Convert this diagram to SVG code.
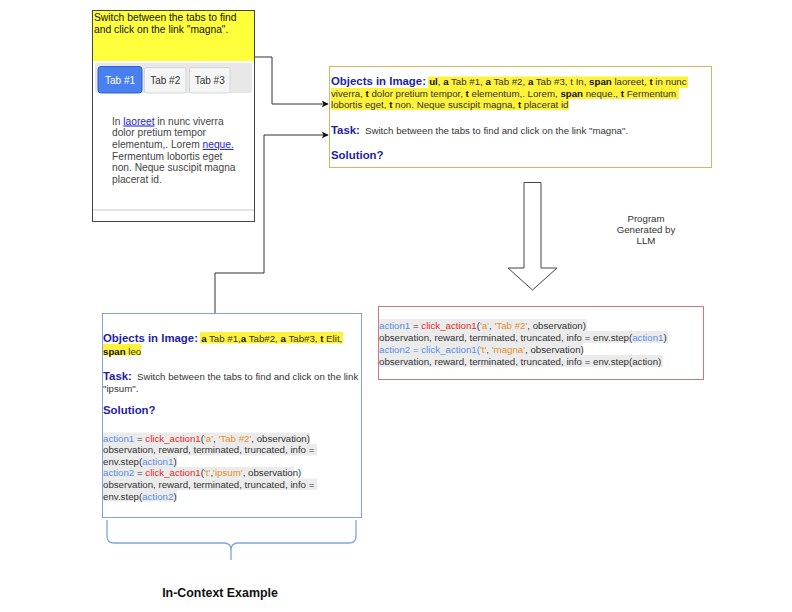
<svg xmlns="http://www.w3.org/2000/svg" width="792" height="612" viewBox="0 0 792 612">
<style>
text{font-family:"Liberation Sans",Arial,sans-serif;fill:#333}
.b{font-size:9.7px}
.h{font-size:11.4px;font-weight:bold;fill:#1f1fa3}
.k{font-weight:bold;fill:#111}
.blu{fill:#5a8ee8}
.red{fill:#e02a2a}
.org{fill:#e8902a}
.hl{fill:#fff23a}
.cg{fill:#ebebeb}
.conn{fill:none;stroke:#333;stroke-width:1}
</style>
<defs>
<marker id="arr" viewBox="0 0 10 10" refX="9" refY="5" markerWidth="7" markerHeight="7" orient="auto" markerUnits="userSpaceOnUse">
<path d="M0,0 L10,5 L0,10 L2.5,5 Z" fill="#111"/>
</marker>
</defs>
<rect width="792" height="612" fill="#fff"/>

<g id="screenshot">
<rect x="92.5" y="10.5" width="162" height="211" fill="#fff" stroke="#444"/>
<rect x="93" y="11" width="161" height="50" fill="#ffff3c"/>
<text x="94" y="20.5" style="font-size:10.3px;fill:#111">Switch between the tabs to find</text>
<text x="94" y="33" style="font-size:10.3px;fill:#111">and click on the link "magna".</text>
<rect x="95" y="63" width="157" height="30" rx="3" fill="#e8e8e8"/>
<rect x="98" y="66.5" width="44" height="26.5" rx="3" fill="#4a7ff0" stroke="#2f62d0"/>
<text x="120" y="83.5" text-anchor="middle" style="font-size:10px;fill:#fff">Tab #1</text>
<rect x="144.5" y="67.5" width="41.5" height="25.5" rx="2" fill="#f5f5f5" stroke="#d6d6d6"/>
<text x="165.2" y="83.5" text-anchor="middle" style="font-size:10px;fill:#333">Tab #2</text>
<rect x="189.5" y="67.5" width="40.5" height="25.5" rx="2" fill="#f5f5f5" stroke="#d6d6d6"/>
<text x="209.7" y="83.5" text-anchor="middle" style="font-size:10px;fill:#333">Tab #3</text>
<g style="font-size:10.2px">
<text x="112" y="124.5" style="fill:#444">In <tspan fill="#1a1ae0" text-decoration="underline">laoreet</tspan> in nunc viverra</text>
<text x="112" y="136.2" style="fill:#444">dolor pretium tempor</text>
<text x="112" y="147.9" style="fill:#444">elementum,. Lorem <tspan fill="#1a1ae0" text-decoration="underline">neque.</tspan></text>
<text x="112" y="159.6" style="fill:#444">Fermentum lobortis eget</text>
<text x="112" y="171.3" style="fill:#444">non. Neque suscipit magna</text>
<text x="112" y="183" style="fill:#444">placerat id.</text>
</g>
<line x1="93" y1="210" x2="254" y2="210" stroke="#c8c8c8"/>
</g>

<g id="prompt">
<rect x="329.5" y="66.5" width="382" height="101" fill="#fff" stroke="#d9b45e"/>
<rect class="hl" x="428" y="76.5" width="260" height="11.5"/>
<rect class="hl" x="331" y="88" width="348" height="11"/>
<rect class="hl" x="331" y="99" width="238" height="11"/>
<text x="331" y="85" class="b"><tspan class="h">Objects in Image: </tspan><tspan class="k">ul</tspan>, <tspan class="k">a</tspan> Tab #1, <tspan class="k">a</tspan> Tab #2, <tspan class="k">a</tspan> Tab #3, t In, <tspan class="k">span</tspan> laoreet, <tspan class="k">t</tspan> in nunc</text>
<text x="331" y="96.5" class="b">viverra, <tspan class="k">t</tspan> dolor pretium tempor, <tspan class="k">t</tspan> elementum,. Lorem, <tspan class="k">span</tspan> neque., <tspan class="k">t</tspan> Fermentum</text>
<text x="331" y="108" class="b">lobortis eget, <tspan class="k">t</tspan> non. Neque suscipit magna, <tspan class="k">t</tspan> placerat id</text>
<text x="331" y="134" class="b"><tspan class="h">Task:</tspan><tspan dx="5">Switch between the tabs to find and click on the link "magna".</tspan></text>
<text x="331" y="159" class="h">Solution?</text>
</g>

<g id="llm-arrow">
<polygon points="524,182.5 541,182.5 541,268 557,268 532.5,290 508,268 524,268" fill="#fff" stroke="#444" stroke-width="1"/>
</g>
<g id="llm-label">
<text x="646" y="221.5" text-anchor="middle" class="b">Program</text>
<text x="646" y="232.5" text-anchor="middle" class="b">Generated by</text>
<text x="646" y="243.5" text-anchor="middle" class="b">LLM</text>
</g>

<g id="output">
<rect x="378.5" y="306.5" width="325" height="73" fill="#fff" stroke="#c97a7a"/>
<rect class="cg" x="379" y="319" width="208" height="12"/>
<rect class="cg" x="379" y="331" width="289" height="12"/>
<rect class="cg" x="379" y="343" width="204" height="12"/>
<rect class="cg" x="379" y="355" width="284" height="12"/>
<text x="379" y="328.5" class="b"><tspan class="blu">action1</tspan> = <tspan class="red">click_action1</tspan>(<tspan class="org">'a'</tspan>, <tspan class="org">'Tab #2'</tspan>, observation)</text>
<text x="379" y="340.5" class="b">observation, reward, terminated, truncated, info = env.step(<tspan class="blu">action1</tspan>)</text>
<text x="379" y="352.5" class="b"><tspan class="blu">action2 = click_action1(</tspan><tspan class="org">'t'</tspan>, <tspan class="org">'magna'</tspan>, observation)</text>
<text x="379" y="364.5" class="b">observation, reward, terminated, truncated, info = env.step(action)</text>
</g>

<g id="example">
<rect x="102.5" y="313.5" width="259" height="204" fill="#fff" stroke="#7ea6e0"/>
<rect class="hl" x="200" y="332" width="143" height="11.5"/>
<rect class="hl" x="103" y="344" width="38" height="11.5"/>
<text x="103" y="342" class="b"><tspan class="h">Objects in Image: </tspan><tspan class="k">a</tspan> Tab #1,<tspan class="k">a</tspan> Tab#2, <tspan class="k">a</tspan> Tab#3, <tspan class="k">t</tspan> Elit,</text>
<text x="103" y="354.5" class="b"><tspan class="k">span</tspan> leo</text>
<text x="103" y="379.5" class="b"><tspan class="h">Task:</tspan><tspan dx="5">Switch between the tabs to find and click on the link</tspan></text>
<text x="103" y="391.5" class="b">"ipsum".</text>
<text x="103" y="414" class="h">Solution?</text>
<rect class="cg" x="103" y="432.5" width="207" height="11.5"/>
<rect class="cg" x="103" y="444" width="214" height="11.5"/>
<rect class="cg" x="103" y="455.5" width="74" height="11.5"/>
<rect class="cg" x="103" y="467" width="191" height="11.5"/>
<rect class="cg" x="103" y="478.5" width="214" height="11.5"/>
<rect class="cg" x="103" y="490" width="74" height="11.5"/>
<text x="103" y="441.5" class="b"><tspan class="blu">action1</tspan> = <tspan class="red">click_action1</tspan>(<tspan class="org">'a'</tspan>, <tspan class="org">'Tab #2'</tspan>, observation)</text>
<text x="103" y="453.1" class="b">observation, reward, terminated, truncated, info =</text>
<text x="103" y="464.7" class="b">env.step(<tspan class="blu">action1</tspan>)</text>
<text x="103" y="476.3" class="b"><tspan class="blu">action2</tspan> = <tspan class="red">click_action1</tspan>(<tspan class="org">'t'</tspan>,<tspan class="org">'ipsum'</tspan>, observation)</text>
<text x="103" y="487.9" class="b">observation, reward, terminated, truncated, info =</text>
<text x="103" y="499.5" class="b">env.step(<tspan class="blu">action2</tspan>)</text>
</g>

<g id="brace">
<path d="M107,520 V536 Q107,543 114,543 H224 Q231,543 231,550 V560 M231,550 Q231,543 238,543 H349 Q356,543 356,536 V520" fill="none" stroke="#7ea6e0" stroke-width="1.3"/>
</g>
<g id="caption">
<text x="220" y="596.5" text-anchor="middle" style="font-size:12.4px;font-weight:bold;fill:#111">In-Context Example</text>
</g>

<g id="connectors">
<path class="conn" d="M255,57 H272 V104 H328" marker-end="url(#arr)"/>
<path class="conn" d="M215,313 V273 H264 V135 H328" marker-end="url(#arr)"/>
</g>
</svg>
